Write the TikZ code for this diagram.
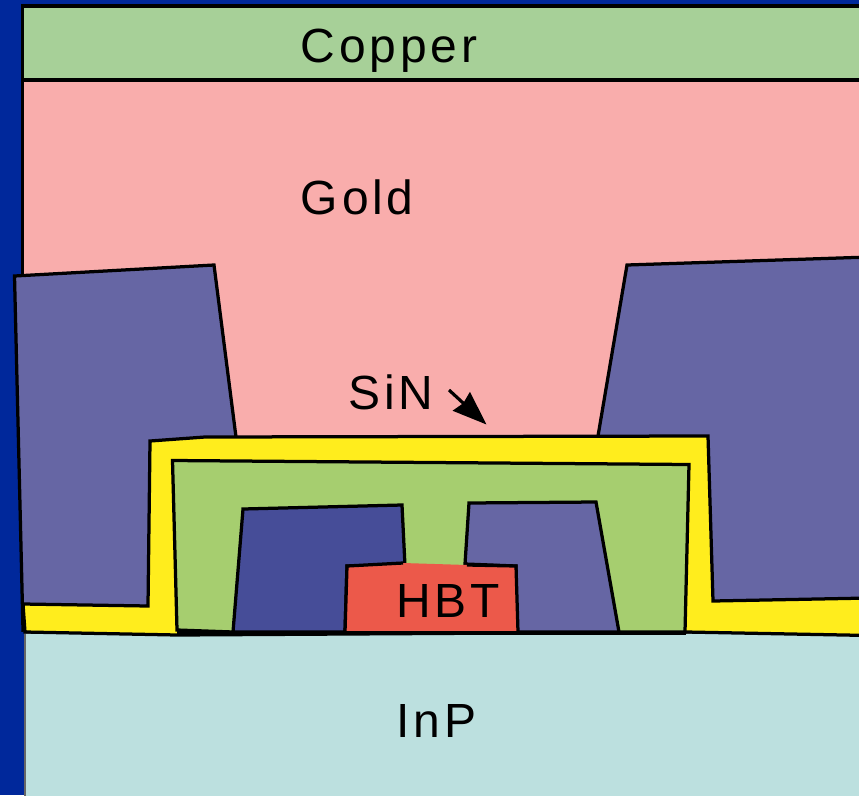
\documentclass[tikz,border=0pt]{standalone}
\usepackage{fontspec}
\setmainfont[LetterSpace=8]{Liberation Sans}
\usetikzlibrary{arrows.meta,positioning}
\definecolor{backblue}{HTML}{00289B}
\definecolor{coppergreen}{HTML}{A7D098}
\definecolor{goldpink}{HTML}{F9ADAC}
\definecolor{metalblue}{HTML}{6666A4}
\definecolor{darkmetal}{HTML}{464D98}
\definecolor{bcbgreen}{HTML}{A6CE6F}
\definecolor{sinyellow}{HTML}{FFED1D}
\definecolor{hbtred}{HTML}{EC594A}
\definecolor{inpblue}{HTML}{BCE0DF}
\tikzset{
  layer/.style={draw=black,line width=1.85pt,line join=miter},
  lbl/.style={anchor=base west,inner sep=0pt,font=\fontsize{27.3}{32}\selectfont},
}
\begin{document}
\begin{tikzpicture}[x=0.02cm,y=-0.02cm]
\useasboundingbox (0,0) rectangle (859,795);
\fill[backblue] (0,0) rectangle (859,795);
\draw[layer,fill=coppergreen] (22.5,6)--(870,6)--(870,80)--(22.5,80)--cycle;
\draw[layer,fill=goldpink] (22.5,80)--(870,80)--(870,620)--(22.5,620)--cycle;
\draw[draw=black!60,line width=0.6pt,fill=inpblue] (25,633)--(870,633)--(870,800)--(25,800)--cycle;
\draw[layer,fill=metalblue] (14.5,276)--(214,265)--(236,437)--(236,460)--(148,606)--(23,630)--cycle;
\draw[layer,fill=metalblue] (627,265)--(870,257)--(870,610)--(713,610)--(598,436)--cycle;
\draw[layer,fill=sinyellow] (150,441)--(205,437)--(708,436)--(713,601)--(870,598)--(870,635.5)--(686,632)--(177,635)--(25,632)--(23,604)--(148,606)--cycle;
\draw[layer,fill=bcbgreen] (172.5,460.5)--(689,464.5)--(685,632)--(233,632)--(177,630)--cycle;
\draw[layer,fill=darkmetal] (243,509)--(402,505)--(405,566)--(347,566)--(345,632)--(233,632)--cycle;
\draw[layer,fill=metalblue] (469,503)--(596,502)--(619,632)--(516,632)--(516,566)--(465,564)--cycle;
\fill[hbtred] (347,566)--(403,563)--(467,565)--(516,566)--(518,632)--(345,632)--cycle;
\draw[layer] (467,565)--(516,566)--(518,632);
\draw[layer] (403,563)--(347,566)--(345,632);
\draw[layer] (177,633)--(686,633);
\node[lbl] (copper) at (300.5,62) {Copper};
\node[lbl] (gold) at (300.5,214) {Gold};
\node[lbl] (sin) at (348,409) {SiN};
\node[lbl] (hbt) at (396,617) {HBT};
\node[lbl] (inp) at (396,737) {InP};
\coordinate (sinfrom) at (449,390);
\coordinate (sinto) at (486.5,424.5);
\draw[line width=1.8pt,-{Stealth[length=0.68cm,width=0.5cm,inset=0.05cm]}] (sinfrom)--(sinto);
\end{tikzpicture}
\end{document}
